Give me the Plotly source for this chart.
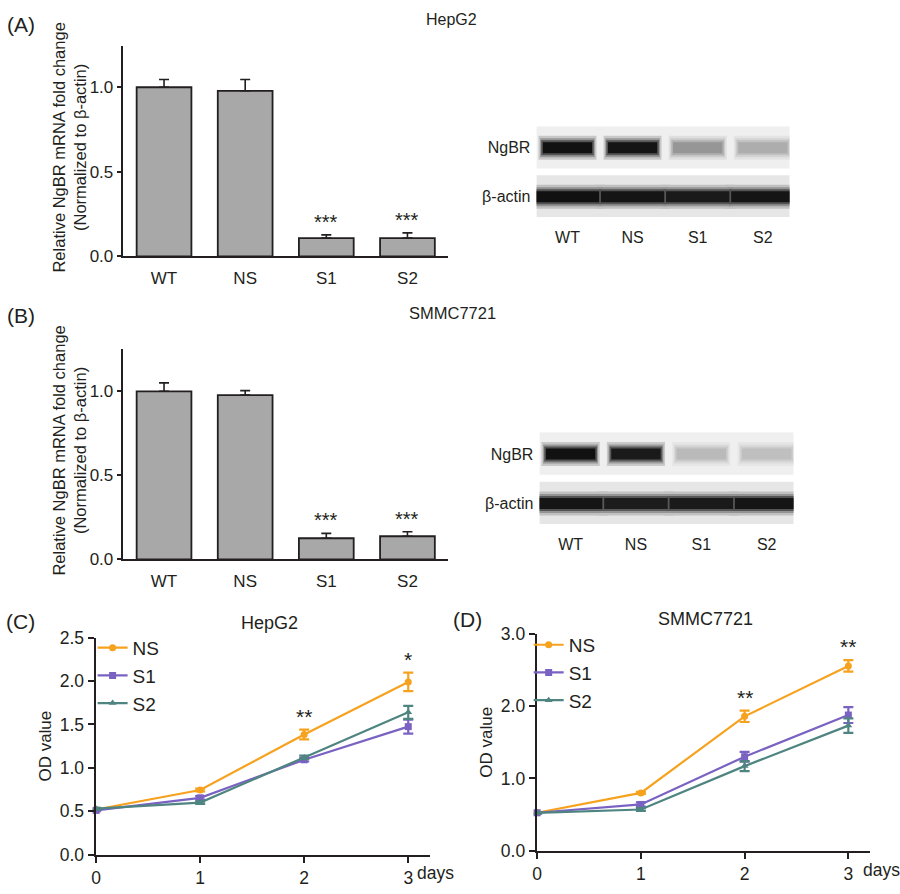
import plotly.graph_objects as go

# ---------------- data ----------------
categories = ["WT", "NS", "S1", "S2"]

hepg2_mrna = [1.0, 0.979, 0.108, 0.108]
hepg2_mrna_err = [0.046, 0.067, 0.019, 0.031]
hepg2_mrna_sig = ["", "", "***", "***"]

smmc_mrna = [1.0, 0.977, 0.126, 0.138]
smmc_mrna_err = [0.05, 0.027, 0.029, 0.027]
smmc_mrna_sig = ["", "", "***", "***"]

blot_rows = ["NgBR", "β-actin"]
hepg2_ngbr_band = [0.97, 0.95, 0.38, 0.28]
hepg2_actin_band = [0.97, 0.95, 0.93, 0.95]
smmc_ngbr_band = [0.97, 0.93, 0.22, 0.2]
smmc_actin_band = [0.95, 0.92, 0.93, 0.95]

days = [0, 1, 2, 3]
day_labels = ["0", "1", "2", "3"]
groups = ["NS", "S1", "S2"]

hepg2_od_ns = [0.52, 0.745, 1.385, 1.99]
hepg2_od_ns_err = [0.01, 0.015, 0.056, 0.107]
hepg2_od_s1 = [0.51, 0.655, 1.093, 1.475]
hepg2_od_s1_err = [0.01, 0.02, 0.02, 0.08]
hepg2_od_s2 = [0.53, 0.60, 1.12, 1.64]
hepg2_od_s2_err = [0.01, 0.015, 0.02, 0.075]
hepg2_od_sig = ["", "", "**", "*"]

smmc_od_ns = [0.525, 0.80, 1.858, 2.555]
smmc_od_ns_err = [0.01, 0.015, 0.078, 0.08]
smmc_od_s1 = [0.525, 0.64, 1.30, 1.876]
smmc_od_s1_err = [0.01, 0.03, 0.067, 0.11]
smmc_od_s2 = [0.525, 0.57, 1.17, 1.73]
smmc_od_s2_err = [0.01, 0.02, 0.07, 0.1]
smmc_od_sig = ["", "", "**", "**"]

# ---------------- styling ----------------
W, H = 900, 894
FONT = "Liberation Sans, Arial, sans-serif"
INK = "#231f20"
BAR_FILL = "#a8a8a8"
COL = {"NS": "#f7a21e", "S1": "#7a62c2", "S2": "#4f8580"}
SYM = {"NS": "circle", "S1": "square", "S2": "triangle-up"}


def px(x):
    return x / W


def py(y):
    return 1 - y / H


fig = go.Figure()

# ---------------- bar panels ----------------
bar_panels = [
    ("x", "y", hepg2_mrna, hepg2_mrna_err, hepg2_mrna_sig),
    ("x2", "y2", smmc_mrna, smmc_mrna_err, smmc_mrna_sig),
]
for xa, ya, vals, errs, sig in bar_panels:
    fig.add_trace(go.Bar(
        x=categories, y=vals, xaxis=xa, yaxis=ya, width=0.675,
        marker=dict(color=BAR_FILL, line=dict(color=INK, width=1.8)),
        error_y=dict(type="data", array=errs, arrayminus=[0] * len(errs),
                     symmetric=False, color=INK, thickness=1.6, width=5),
        showlegend=False, hoverinfo="skip",
    ))
    for c, v, e, s in zip(categories, vals, errs, sig):
        if s:
            fig.add_annotation(x=c, y=v + e, xref=xa, yref=ya, text=s,
                               showarrow=False, yanchor="bottom", yshift=0,
                               font=dict(size=20, color=INK, family=FONT))

axis_bar_x = dict(range=[-0.5, 3.5], showline=True, linecolor=INK, linewidth=1.6,
                  ticks="outside", ticklen=5, tickcolor="rgba(0,0,0,0)",
                  tickfont=dict(size=17, color=INK, family=FONT), showgrid=False,
                  zeroline=False, fixedrange=True)
axis_bar_y = dict(tickvals=[0, 0.5, 1.0], tickformat=".1f", showline=True,
                  linecolor=INK, linewidth=1.6, ticks="outside", ticklen=5,
                  tickwidth=1.6, tickcolor=INK,
                  tickfont=dict(size=17, color=INK, family=FONT), showgrid=False,
                  zeroline=False, fixedrange=True)

fig.update_layout(
    xaxis=dict(axis_bar_x, domain=[px(120), px(446)], anchor="y"),
    yaxis=dict(axis_bar_y, domain=[py(252), py(37)], range=[0, 1.243], anchor="x"),
    xaxis2=dict(axis_bar_x, domain=[px(120), px(446)], anchor="y2"),
    yaxis2=dict(axis_bar_y, domain=[py(562), py(347)], range=[0, 1.25], anchor="x2"),
)

for yc in (141, 451):
    fig.add_annotation(x=px(66), y=py(yc), xref="paper", yref="paper",
                       text="Relative NgBR mRNA fold change<br>(Normalized to β-actin)",
                       textangle=-90, showarrow=False, xanchor="center", yanchor="middle",
                       font=dict(size=16.5, color=INK, family=FONT))

# ---------------- western blot panels ----------------
def band_gray(intensity):
    return 236 * (1 - intensity) + 10 * intensity


def mix(g, bg, a):
    v = int(round(g * a + bg * (1 - a)))
    return f"rgb({v},{v},{v})"


blot_panels = [
    ("x3", "y3", hepg2_ngbr_band, hepg2_actin_band, (535, 789), (119, 212)),
    ("x4", "y4", smmc_ngbr_band, smmc_actin_band, (538, 793), (432, 526)),
]
layers = ((1.06, 24, 0.18), (1.0, 19, 0.4), (0.96, 15, 0.7), (0.9, 11, 1.0))
for xa, ya, ngbr, actin, (xl, xr), (yt, yb) in blot_panels:
    rows = ((ngbr, 0.42, 239, (-0.44, 0.42)), (actin, 0.54, 230, (0.56, 1.42)))
    for r, (bands, hw, bg, (r0, r1)) in enumerate(rows):
        fig.add_shape(type="rect", xref=f"{xa} domain", yref=ya, x0=0, x1=1,
                      y0=r0, y1=r1, fillcolor=f"rgb({bg},{bg},{bg})", line_width=0,
                      layer="below")
        for scale, lw, a in layers:
            for i, inten in enumerate(bands):
                fig.add_trace(go.Scatter(
                    x=[i - hw * scale, i + hw * scale], y=[r, r], xaxis=xa, yaxis=ya,
                    mode="lines", line=dict(color=mix(band_gray(inten), bg, a), width=lw),
                    showlegend=False, hoverinfo="skip", cliponaxis=True,
                ))
    fig.layout[xa.replace("x", "xaxis")] = dict(
        domain=[px(xl), px(xr)], range=[-0.474, 3.41], anchor=ya,
        tickvals=[0, 1, 2, 3], ticktext=categories, ticks="outside", ticklen=6,
        tickcolor="rgba(0,0,0,0)", showline=False, showgrid=False, zeroline=False,
        tickfont=dict(size=16, color=INK, family=FONT), fixedrange=True)
    fig.layout[ya.replace("y", "yaxis")] = dict(
        domain=[py(yb), py(yt)], range=[1.42, -0.44], anchor=xa,
        tickvals=[0, 1], ticktext=blot_rows, ticks="outside", ticklen=2,
        tickcolor="rgba(0,0,0,0)", showline=False, showgrid=False, zeroline=False,
        tickfont=dict(size=16, color=INK, family=FONT), fixedrange=True)

# ---------------- line panels ----------------
line_panels = [
    ("x5", "y5", "legend",
     [hepg2_od_ns, hepg2_od_s1, hepg2_od_s2],
     [hepg2_od_ns_err, hepg2_od_s1_err, hepg2_od_s2_err], hepg2_od_sig),
    ("x6", "y6", "legend2",
     [smmc_od_ns, smmc_od_s1, smmc_od_s2],
     [smmc_od_ns_err, smmc_od_s1_err, smmc_od_s2_err], smmc_od_sig),
]
for xa, ya, lg, series, errs, sig in line_panels:
    for g, vals, e in zip(groups, series, errs):
        fig.add_trace(go.Scatter(
            x=days, y=vals, xaxis=xa, yaxis=ya, name=g, legend=lg,
            mode="lines+markers",
            line=dict(color=COL[g], width=2.2),
            marker=dict(symbol=SYM[g], size=7, color=COL[g]),
            error_y=dict(type="data", array=e, color=COL[g], thickness=2.2, width=5),
            cliponaxis=False, hoverinfo="skip",
        ))
    ns_vals, ns_err = series[0], errs[0]
    for d, v, e, s in zip(days, ns_vals, ns_err, sig):
        if s:
            fig.add_annotation(x=d, y=v + e, xref=xa, yref=ya, text=s,
                               showarrow=False, yanchor="bottom", yshift=0,
                               font=dict(size=21, color=INK, family=FONT))

axis_line_x = dict(range=[-0.005, 3.21], tickvals=days, ticktext=day_labels,
                   showline=True, linecolor=INK, linewidth=2, ticks="outside",
                   ticklen=6, tickwidth=2, tickcolor=INK,
                   tickfont=dict(size=17.5, color=INK, family=FONT), showgrid=False,
                   zeroline=False, fixedrange=True)
axis_line_y = dict(showline=True, linecolor=INK, linewidth=2, ticks="outside",
                   ticklen=6, tickwidth=2, tickcolor=INK, tickformat=".1f",
                   tickfont=dict(size=17.5, color=INK, family=FONT), showgrid=False,
                   zeroline=False, fixedrange=True,
                   title=dict(text="OD value", font=dict(size=17, color=INK, family=FONT),
                              standoff=4))
fig.update_layout(
    xaxis5=dict(axis_line_x, domain=[px(92), px(428)], anchor="y5"),
    yaxis5=dict(axis_line_y, domain=[py(864), py(642)], range=[0, 2.5],
                tickvals=[0, 0.5, 1.0, 1.5, 2.0, 2.5], anchor="x5"),
    xaxis6=dict(axis_line_x, domain=[px(535), px(870)], anchor="y6"),
    yaxis6=dict(axis_line_y, domain=[py(860), py(638)], range=[0, 3],
                tickvals=[0, 1, 2, 3], anchor="x6"),
)

legend_style = dict(font=dict(size=19, color=INK, family=FONT), bgcolor="rgba(0,0,0,0)",
                    xanchor="left", yanchor="top", itemwidth=30, tracegroupgap=0)
fig.update_layout(
    legend=dict(legend_style, x=px(89), y=py(633)),
    legend2=dict(legend_style, x=px(527), y=py(630)),
)

# ---------------- texts ----------------
texts = [
    ("(A)", 17, 15, 21, "center"),
    ("(B)", 17, 312, 21, "center"),
    ("(C)", 17, 625, 21, "center"),
    ("(D)", 466, 623, 21, "center"),
    ("HepG2", 449, 10, 16, "center"),
    ("SMMC7721", 451, 310, 16.5, "center"),
    ("HepG2", 267, 627, 18, "center"),
    ("SMMC7721", 705, 623, 18, "center"),
    ("days", 413, 883, 17.5, "left"),
    ("days", 861, 880, 17.5, "left"),
]
for t, x, y, s, xa in texts:
    fig.add_annotation(x=px(x), y=py(y), xref="paper", yref="paper", text=t,
                       showarrow=False, xanchor=xa, yanchor="middle",
                       font=dict(size=s, color=INK, family=FONT))

fig.update_layout(
    width=W, height=H, margin=dict(l=0, r=0, t=0, b=0),
    paper_bgcolor="white", plot_bgcolor="rgba(0,0,0,0)",
    font=dict(family=FONT, color=INK), barmode="overlay",
)

fig.write_html("out.html", config={"displayModeBar": False},
               post_script="document.body.style.margin='0';")
